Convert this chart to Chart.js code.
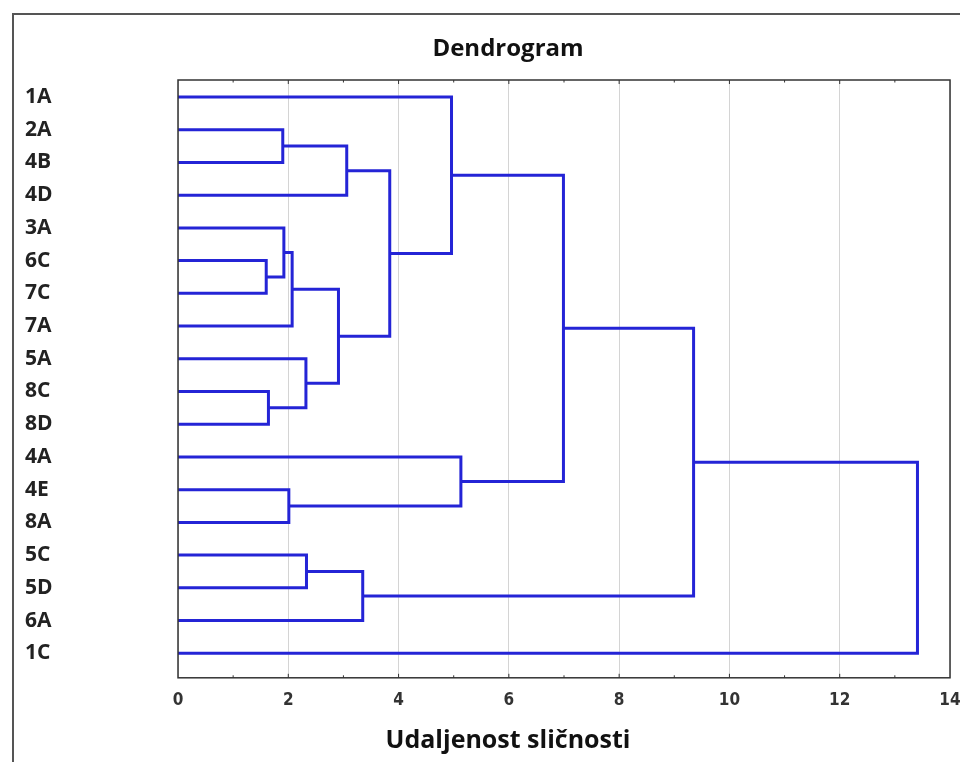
<html>
<head>
    <script src="https://cdn.jsdelivr.net/npm/chart.js"></script>
    <style>
        body { margin: 0; overflow: hidden; background: #fff; }
        #frame { position: absolute; left: 12px; top: 13px; border-left: 2px solid #555; border-top: 2px solid #555; }
    </style>
</head>

<body>
    <div id="frame">
        <canvas id="chart_id" width="990" height="760"></canvas>
    </div>
    <script>
        // leaves, top to bottom
        const leafLabels = ['1A', '2A', '4B', '4D', '3A', '6C', '7C', '7A', '5A', '8C', '8D', '4A', '4E', '8A', '5C', '5D', '6A', '1C'];
        // merges: node ids >= 18 are earlier merges (18 = first row)
        const mergeLeft   = [1, 18, 5, 4, 21, 9, 8, 22, 19, 0, 12, 11, 27, 14, 31, 30, 33];
        const mergeRight  = [2, 3, 6, 20, 7, 10, 23, 24, 25, 26, 13, 28, 29, 15, 16, 32, 17];
        const mergeHeight = [1.90, 3.06, 1.60, 1.92, 2.07, 1.64, 2.32, 2.91, 3.84, 4.96, 2.01, 5.13, 6.99, 2.33, 3.35, 9.35, 13.41];
        const xTicks = [0, 2, 4, 6, 8, 10, 12, 14];

        const lineColor = '#2424d6';
        const n = leafLabels.length;

        // position of a node: leaves at 0, merges at their height, middle of children
        function nodePos(id) {
            if (id < n) return { x: 0, y: id };
            const k = id - n;
            const l = nodePos(mergeLeft[k]);
            const r = nodePos(mergeRight[k]);
            return { x: mergeHeight[k], y: (l.y + r.y) / 2 };
        }

        const datasets = mergeHeight.map((h, k) => {
            const l = nodePos(mergeLeft[k]);
            const r = nodePos(mergeRight[k]);
            return {
                data: [{ x: l.x, y: l.y }, { x: h, y: l.y }, { x: h, y: r.y }, { x: r.x, y: r.y }],
                showLine: true,
                borderColor: lineColor,
                borderWidth: 3,
                pointRadius: 0,
                tension: 0,
                clip: false
            };
        });

        // box around the plot with small inward ticks top and bottom
        const frameBox = {
            id: 'frameBox',
            afterDraw(chart) {
                const { ctx, chartArea: a } = chart;
                const xs = chart.scales.x;
                ctx.save();
                ctx.strokeStyle = '#333';
                ctx.lineWidth = 1.5;
                ctx.strokeRect(a.left, a.top, a.right - a.left, a.bottom - a.top);
                ctx.lineWidth = 1;
                for (let v = 1; v < 14; v++) {
                    const px = xs.getPixelForValue(v);
                    const len = v % 2 === 0 ? 4 : 2.5;
                    ctx.beginPath();
                    ctx.moveTo(px, a.top); ctx.lineTo(px, a.top + len);
                    ctx.moveTo(px, a.bottom); ctx.lineTo(px, a.bottom - len);
                    ctx.stroke();
                }
                ctx.restore();
            }
        };

        new Chart(document.getElementById('chart_id'), {
            type: 'scatter',
            data: { datasets: datasets },
            options: {
                responsive: false,
                animation: false,
                layout: { padding: { left: 11, right: 13, top: 0, bottom: 19.2 } },
                plugins: {
                    legend: { display: false },
                    tooltip: { enabled: false },
                    title: {
                        display: true,
                        text: 'Dendrogram',
                        color: '#111',
                        font: { family: 'Open Sans', size: 24, weight: 'bold', lineHeight: 1.2 },
                        padding: { top: 20, bottom: 16.2 }
                    },
                    subtitle: {
                        display: true,
                        position: 'bottom',
                        text: 'Udaljenost sličnosti',
                        color: '#111',
                        font: { family: 'Open Sans', size: 25, weight: 'bold', lineHeight: 1.2 },
                        padding: { top: 8, bottom: 0 }
                    }
                },
                scales: {
                    x: {
                        type: 'linear',
                        min: 0,
                        max: 14,
                        afterBuildTicks: s => { s.ticks = xTicks.map(v => ({ value: v })); },
                        afterFit: s => { s.height = 40; },
                        grid: { color: '#d4d4d4', lineWidth: 1, drawTicks: false },
                        border: { display: false },
                        ticks: {
                            padding: 13,
                            color: '#333',
                            font: { family: "'DejaVu Sans Condensed', 'Liberation Sans', sans-serif", size: 17, weight: 'bold' }
                        }
                    },
                    y: {
                        type: 'linear',
                        reverse: true,
                        min: -0.52,
                        max: 17.75,
                        afterBuildTicks: s => { s.ticks = leafLabels.map((_, i) => ({ value: i })); },
                        afterFit: s => { s.width = 153; },
                        grid: { display: false, drawTicks: false },
                        border: { display: false },
                        ticks: {
                            autoSkip: false,
                            padding: 0,
                            crossAlign: 'far',
                            color: '#222',
                            font: { family: 'Open Sans', size: 21, weight: 'bold' },
                            callback: v => leafLabels[v]
                        }
                    },
                    // empty strip on the right, keeps the plot edge at 14 while titles stay centred on the frame
                    yRight: {
                        type: 'linear',
                        position: 'right',
                        grid: { display: false, drawTicks: false },
                        border: { display: false },
                        ticks: { display: false },
                        afterFit: s => { s.width = 41; }
                    }
                }
            },
            plugins: [frameBox]
        });
    </script>
</body>
</html>
